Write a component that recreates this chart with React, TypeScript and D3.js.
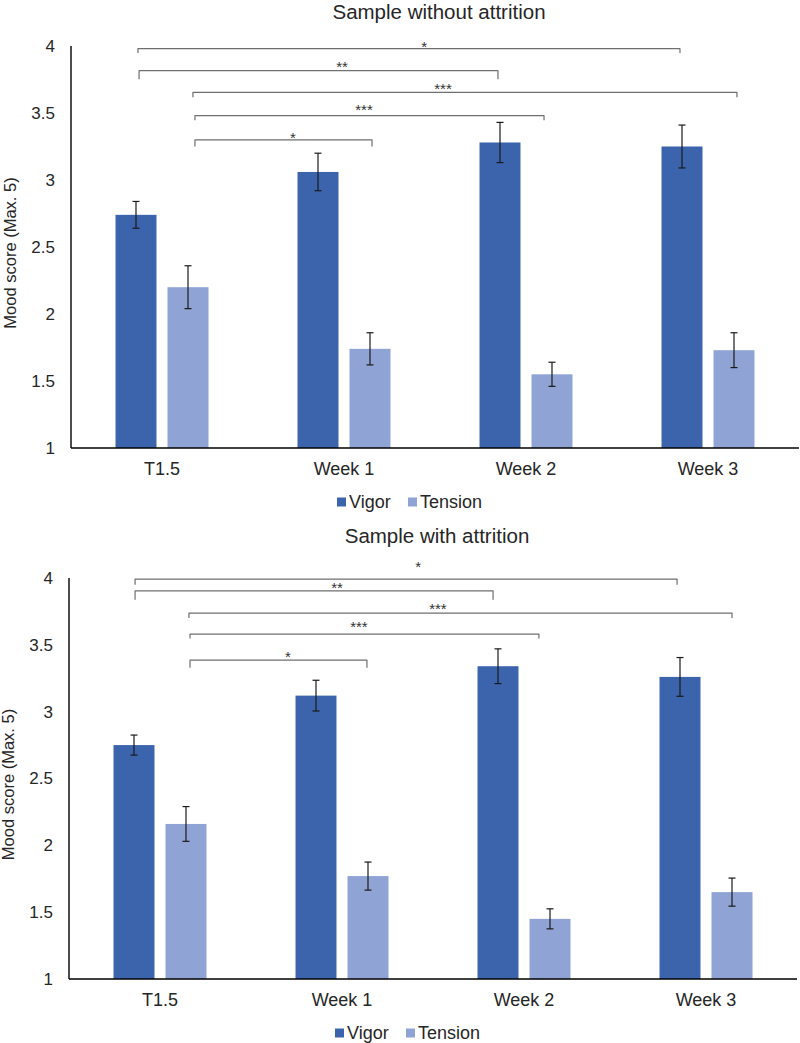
import React from "react";
import * as d3 from "d3";

const categories = ["T1.5", "Week 1", "Week 2", "Week 3"];
const series = ["Vigor", "Tension"];
const yTicks = [1, 1.5, 2, 2.5, 3, 3.5, 4];

// Sample without attrition
const withoutVigor = [2.74, 3.06, 3.28, 3.25];
const withoutVigorErr = [0.1, 0.14, 0.15, 0.16];
const withoutTension = [2.2, 1.74, 1.55, 1.73];
const withoutTensionErr = [0.16, 0.12, 0.09, 0.13];

// Sample with attrition
const withVigor = [2.75, 3.12, 3.34, 3.26];
const withVigorErr = [0.075, 0.115, 0.13, 0.145];
const withTension = [2.16, 1.77, 1.45, 1.65];
const withTensionErr = [0.13, 0.105, 0.075, 0.105];

// significance brackets: ends in category units, level in score units
const withoutBrackets = [
  { from: 0.368, to: 3.346, level: 3.98, drop: 0.033, label: "*", lx: 1.94, ly: 4.022 },
  { from: 0.374, to: 2.346, level: 3.816, drop: 0.065, label: "**", lx: 1.489, ly: 3.873 },
  { from: 0.67, to: 3.659, level: 3.654, drop: 0.037, label: "***", lx: 2.044, ly: 3.709 },
  { from: 0.681, to: 2.599, level: 3.48, drop: 0.035, label: "***", lx: 1.61, ly: 3.552 },
  { from: 0.681, to: 1.654, level: 3.3, drop: 0.05, label: "*", lx: 1.22, ly: 3.347 },
];
const withBrackets = [
  { from: 0.363, to: 3.341, level: 3.992, drop: 0.042, label: "*", lx: 1.918, ly: 4.111 },
  { from: 0.363, to: 2.33, level: 3.904, drop: 0.067, label: "**", lx: 1.473, ly: 3.954 },
  { from: 0.659, to: 3.643, level: 3.737, drop: 0.037, label: "***", lx: 2.027, ly: 3.797 },
  { from: 0.665, to: 2.582, level: 3.58, drop: 0.032, label: "***", lx: 1.593, ly: 3.663 },
  { from: 0.665, to: 1.637, level: 3.386, drop: 0.058, label: "*", lx: 1.203, ly: 3.438 },
];

const COLORS = ["#3B64AD", "#8FA4D4"];
const FONT = "Arial, 'Liberation Sans', Helvetica, sans-serif";

type Bracket = { from: number; to: number; level: number; drop: number; label: string; lx: number; ly: number };

function Panel(props: {
  title: string;
  titleY: number;
  left: number;
  right: number;
  yTop: number;
  yBottom: number;
  values: number[][];
  errors: number[][];
  brackets: Bracket[];
}) {
  const { title, titleY, left, right, yTop, yBottom, values, errors, brackets } = props;
  const x = d3.scaleBand<string>().domain(categories).range([left, right]).padding(0);
  const sub = d3
    .scaleBand<string>()
    .domain(series)
    .range([0, x.bandwidth()])
    .paddingInner(0.212)
    .paddingOuter(0.856);
  const xc = d3.scaleLinear().domain([0, categories.length]).range([left, right]);
  const y = d3.scaleLinear().domain([1, 4]).range([yBottom, yTop]);
  const bw = sub.bandwidth();
  const cap = 3.5;
  const midY = (yTop + yBottom) / 2 + 6;

  return (
    <g>
      <text x={(left + right) / 2 + 4} y={titleY} textAnchor="middle" fontSize={20.5} fill="#262626" fontFamily={FONT}>
        {title}
      </text>
      {/* y title */}
      <text
        transform={`translate(${left - 55},${midY}) rotate(-90)`}
        textAnchor="middle"
        fontSize={16.5}
        fill="#262626"
        fontFamily={FONT}
      >
        Mood score (Max. 5)
      </text>
      {/* y tick labels */}
      {yTicks.map((t) => (
        <text
          key={t}
          x={left - 16}
          y={y(t)}
          dy="0.35em"
          textAnchor="end"
          fontSize={17}
          fill="#262626"
          fontFamily={FONT}
        >
          {String(t)}
        </text>
      ))}
      {/* bars */}
      {series.map((s, si) =>
        categories.map((c, ci) => {
          const v = values[si][ci];
          const bx = (x(c) as number) + (sub(s) as number);
          return (
            <rect
              key={s + c}
              x={bx}
              y={y(v)}
              width={bw}
              height={y(1) - y(v)}
              fill={COLORS[si]}
            />
          );
        })
      )}
      {/* error bars */}
      {series.map((s, si) =>
        categories.map((c, ci) => {
          const v = values[si][ci];
          const e = errors[si][ci];
          const cx = (x(c) as number) + (sub(s) as number) + bw / 2;
          const y1 = y(v + e);
          const y2 = y(v - e);
          return (
            <g key={"e" + s + c} stroke="#1a1a1a" strokeWidth={1.2}>
              <line x1={cx} x2={cx} y1={y1} y2={y2} />
              <line x1={cx - cap} x2={cx + cap} y1={y1} y2={y1} />
              <line x1={cx - cap} x2={cx + cap} y1={y2} y2={y2} />
            </g>
          );
        })
      )}
      {/* axes */}
      <line x1={left} x2={left} y1={y(4)} y2={y(1)} stroke="#000" strokeWidth={1.4} />
      <line x1={left} x2={right} y1={y(1)} y2={y(1)} stroke="#000" strokeWidth={1.4} />
      {/* x labels */}
      {categories.map((c) => (
        <text
          key={c}
          x={(x(c) as number) + x.bandwidth() / 2}
          y={y(1) + 27}
          textAnchor="middle"
          fontSize={18}
          fill="#262626"
          fontFamily={FONT}
        >
          {c}
        </text>
      ))}
      {/* brackets */}
      {brackets.map((b, i) => {
        const x1 = xc(b.from);
        const x2 = xc(b.to);
        const yl = y(b.level);
        const yd = y(b.level - b.drop);
        return (
          <g key={"b" + i}>
            <path
              d={`M${x1},${yd} L${x1},${yl} L${x2},${yl} L${x2},${yd}`}
              fill="none"
              stroke="#6f6f6f"
              strokeWidth={1.2}
              strokeLinejoin="round"
            />
            <text
              x={xc(b.lx)}
              y={y(b.ly)}
              dy="0.6em"
              textAnchor="middle"
              fontSize={15}
              fill="#333"
              fontFamily={FONT}
            >
              {b.label}
            </text>
          </g>
        );
      })}
      {/* legend */}
      {series.map((s, si) => {
        const lx0 = (left + right) / 2 - 98 + si * 71;
        const ly = y(1) + 54;
        return (
          <g key={"l" + s}>
            <rect x={lx0} y={ly - 4.5} width={9} height={9} fill={COLORS[si]} />
            <text x={lx0 + 12} y={ly} dy="0.36em" fontSize={18} fill="#262626" fontFamily={FONT}>
              {s}
            </text>
          </g>
        );
      })}
    </g>
  );
}

export default function App() {
  return (
    <svg
      width={800}
      height={1043}
      viewBox="0 0 800 1043"
      style={{ position: "absolute", left: 0, top: 0, background: "#fff" }}
    >
      <rect x={0} y={0} width={800} height={1043} fill="#fff" />
      <Panel
        title="Sample without attrition"
        titleY={19}
        left={71}
        right={799}
        yTop={46}
        yBottom={448}
        values={[withoutVigor, withoutTension]}
        errors={[withoutVigorErr, withoutTensionErr]}
        brackets={withoutBrackets}
      />
      <Panel
        title="Sample with attrition"
        titleY={543}
        left={69}
        right={797}
        yTop={578}
        yBottom={979}
        values={[withVigor, withTension]}
        errors={[withVigorErr, withTensionErr]}
        brackets={withBrackets}
      />
    </svg>
  );
}
